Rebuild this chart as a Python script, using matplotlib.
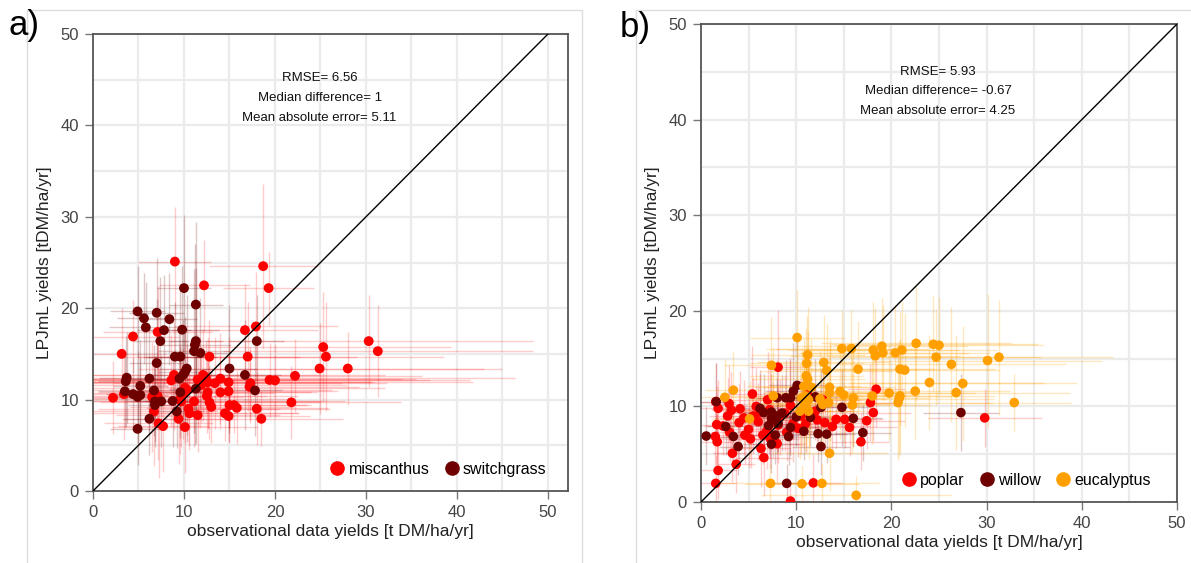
import matplotlib
matplotlib.use("Agg")
import matplotlib.pyplot as plt
from matplotlib.lines import Line2D
from matplotlib.patches import Rectangle

plt.rcParams['font.family'] = ['Liberation Sans', 'DejaVu Sans']

# ---------------- panel a data ----------------
mis_x = [9.0, 18.7, 12.2, 19.3, 7.1, 4.4, 16.7, 17.9, 3.15, 12.8, 17.0, 25.3, 25.6, 24.9, 22.2, 19.4,
         20.0, 21.8, 18.5, 18.0, 17.3, 17.2, 2.2, 3.4, 7.2, 7.7, 6.7, 6.5, 7.1, 8.9, 8.6, 9.4, 10.1,
         10.5, 10.6, 11.5, 11.1, 9.6, 9.7, 10.1, 10.3, 9.9, 11.8, 12.1, 12.4, 12.6, 12.6, 12.5, 13.0,
         12.8, 13.4, 14.0, 14.0, 14.9, 14.9, 15.0, 15.5, 15.8, 14.5, 14.9, 11.5, 11.9, 28.0, 30.3, 31.3]
mis_y = [25.1, 24.6, 22.5, 22.2, 17.4, 16.9, 17.6, 18.0, 15.0, 14.7, 14.7, 15.75, 14.7, 13.4, 12.6, 12.15,
         12.1, 9.7, 7.9, 9.0, 11.8, 11.4, 10.2, 10.6, 7.4, 7.1, 8.7, 10.3, 10.4, 12.7, 12.1, 7.9, 7.0,
         9.0, 8.5, 8.3, 9.8, 10.1, 9.8, 11.3, 11.1, 10.7, 11.9, 12.7, 12.4, 11.9, 10.8, 10.4, 9.2,
         9.7, 11.8, 12.3, 10.8, 11.9, 10.9, 9.4, 9.4, 9.1, 8.5, 8.2, 12.2, 11.6, 13.4, 16.4, 15.3]
mis_xerr = [4, 6, 5, 5, 6, 5, 8, 9, 5, 10, 12, 14, 13, 20, 14, 22,
            17, 12, 9, 8, 15, 12, 4, 6, 6, 5, 7, 10, 12, 16, 14, 6, 8,
            10, 12, 9, 14, 12, 18, 22, 16, 10, 30, 20, 34, 18, 12, 10, 9,
            12, 14, 20, 10, 16, 12, 9, 8, 10, 8, 9, 24, 16, 15, 18, 17]
mis_yerr = [6, 9, 5, 4, 5, 4, 5, 6, 5, 4, 6, 6, 6, 5, 4, 4,
            4, 4, 3, 4, 4, 4, 4, 5, 6, 5, 6, 6, 7, 6, 5, 5, 5,
            4, 4, 4, 5, 6, 5, 6, 5, 5, 5, 5, 4, 5, 4, 4, 4,
            4, 5, 5, 4, 5, 4, 4, 3, 4, 3, 3, 5, 4, 4, 5, 5]

swi_x = [10.0, 11.3, 4.9, 7.0, 5.6, 8.4, 5.8, 7.8, 9.8, 7.4, 11.3, 11.2, 11.1, 11.8, 9.0, 9.6, 7.0,
         10.3, 10.1, 9.9, 9.5, 15.0, 16.7, 17.8, 18.0, 3.7, 3.6, 6.2, 5.2, 3.5, 4.4, 4.9, 5.2, 6.7,
         7.5, 6.8, 6.8, 8.75, 9.6, 9.2, 6.2, 4.9, 11.3]
swi_y = [22.2, 20.4, 19.65, 19.5, 18.9, 18.8, 17.9, 17.6, 17.65, 16.4, 16.4, 16.0, 15.3, 15.1, 14.7, 14.7, 14.0,
         13.4, 13.0, 12.7, 12.3, 13.4, 12.7, 11.0, 16.4, 12.4, 12.0, 12.3, 11.5, 10.9, 10.6, 10.3, 10.5, 11.0,
         9.8, 9.8, 9.4, 9.85, 10.8, 8.7, 7.9, 6.8, 11.2]
swi_xerr = [3, 3, 3, 3, 3, 3, 4, 3, 4, 3, 3, 4, 4, 3, 3, 4, 3,
            3, 3, 4, 3, 3, 4, 3, 3, 3, 3, 3, 3, 3, 3, 3, 3, 3,
            3, 3, 3, 3, 3, 3, 3, 3, 3]
swi_yerr = [8, 9, 5, 6, 5, 5, 5, 6, 7, 7, 8, 11, 9, 6, 6, 8, 7,
            8, 6, 6, 5, 7, 6, 5, 5, 5, 5, 6, 5, 4, 4, 5, 4, 5,
            5, 5, 4, 5, 5, 4, 4, 4, 6]

# ---------------- panel b data ----------------
pop_x = [8.1, 5.4, 18.4, 17.8, 18.1, 17.4, 16.8, 15.6, 13.8, 14.2, 15.1, 12.8, 11.2, 1.55, 1.8, 2.95,
         3.2, 4.1, 1.65, 1.5, 1.7, 2.8, 4.0, 3.3, 3.7, 1.8, 1.55, 6.6, 6.3, 7.0, 7.2, 11.8, 9.4, 8.0,
         9.65, 9.4, 8.3, 8.1, 6.9, 2.3, 29.8, 5.5, 6.0, 5.0, 4.5, 6.5, 7.6, 8.8, 10.5, 11.0, 12.2,
         13.0, 5.8, 3.0, 10.2, 12.0, 9.0, 5.2, 7.3, 6.2, 4.6]
pop_y = [14.1, 11.3, 11.8, 10.4, 9.35, 8.5, 6.3, 7.8, 7.9, 8.65, 8.65, 10.7, 11.25, 10.5, 9.8, 10.3,
         9.6, 9.75, 8.1, 6.85, 6.3, 9.0, 8.3, 5.1, 3.95, 3.3, 1.95, 4.65, 5.6, 10.7, 9.65, 2.0, 0.1, 6.1,
         8.2, 10.1, 8.9, 8.05, 7.4, 7.95, 8.8, 9.0, 8.4, 7.6, 8.8, 7.0, 8.6, 9.3, 9.0, 8.2, 8.6,
         8.3, 10.0, 7.3, 7.7, 9.5, 7.3, 6.6, 6.6, 9.4, 7.0]
pop_xerr = [3, 3, 3, 3, 4, 4, 3, 5, 4, 4, 4, 4, 3, 2, 2, 2,
            2, 3, 2, 2, 2, 2, 3, 2, 2, 2, 2, 3, 3, 4, 4, 3, 2, 3,
            4, 4, 4, 3, 3, 2, 6, 3, 3, 3, 3, 3, 3, 4, 4, 4, 4,
            4, 3, 2, 4, 4, 3, 3, 3, 3, 3]
pop_yerr = [6, 5, 4, 4, 3, 3, 3, 3, 3, 3, 3, 4, 4, 4, 3, 4,
            4, 4, 4, 3, 3, 4, 4, 3, 3, 3, 3, 4, 4, 5, 5, 3, 2, 4,
            4, 5, 4, 4, 4, 3, 3, 4, 4, 4, 4, 3, 4, 4, 4, 3, 3,
            3, 4, 3, 3, 3, 3, 3, 3, 4, 3]

wil_x = [1.6, 0.55, 2.6, 3.4, 3.9, 6.2, 6.6, 7.4, 8.0, 8.5, 8.0, 8.9, 9.4, 10.1, 9.7, 12.0, 12.6,
         14.8, 16.0, 17.0, 13.2, 12.3, 12.6, 10.8, 9.2, 7.8, 7.4, 9.0, 7.1, 9.4, 11.5, 10.0, 7.4,
         8.1, 27.3]
wil_y = [10.5, 6.9, 7.9, 6.85, 5.8, 9.8, 9.35, 9.4, 9.0, 9.3, 10.9, 10.9, 10.9, 12.2, 11.6, 11.0, 9.9,
         9.9, 8.75, 7.25, 7.1, 7.15, 5.8, 7.4, 6.85, 7.0, 6.05, 1.95, 8.0, 7.8, 8.85, 8.9, 8.75,
         8.2, 9.35]
wil_xerr = [2, 1, 2, 2, 2, 3, 3, 3, 3, 3, 3, 3, 3, 3, 3, 3, 3,
            3, 3, 3, 3, 3, 3, 3, 3, 3, 3, 2, 3, 3, 3, 3, 3,
            3, 4]
wil_yerr = [4, 3, 3, 3, 3, 4, 4, 4, 4, 4, 4, 4, 4, 5, 5, 4, 4,
            4, 3, 3, 3, 3, 3, 3, 3, 3, 3, 2, 3, 3, 3, 3, 3,
            3, 4]

euc_x = [10.1, 7.4, 14.8, 15.8, 11.2, 11.1, 12.9, 13.2, 16.5, 11.05, 11.2, 18.1, 19.0, 18.3, 19.1, 20.4,
         21.1, 22.6, 20.9, 21.4, 24.0, 22.5, 20.9, 20.8, 20.7, 19.75, 18.0, 16.0, 15.9, 15.0, 14.6, 13.5,
         13.4, 12.8, 12.5, 10.6, 11.0, 10.8, 11.3, 11.0, 11.3, 10.4, 11.6, 10.8, 13.5, 7.6, 2.5, 3.4,
         5.1, 13.5, 7.3, 10.6, 12.7, 16.3, 24.4, 25.0, 24.7, 26.3, 30.1, 31.3, 27.5, 26.8, 32.9]
euc_y = [17.2, 14.3, 16.05, 16.05, 15.4, 14.5, 14.6, 13.75, 13.9, 13.2, 12.85, 15.9, 16.3, 15.3, 15.6, 15.6,
         15.9, 16.6, 13.9, 13.8, 12.5, 11.6, 11.1, 10.8, 10.4, 11.4, 11.1, 10.9, 10.15, 11.2, 11.55, 11.4,
         10.4, 10.2, 10.8, 10.9, 11.1, 10.4, 10.7, 10.0, 9.5, 9.5, 12.0, 12.1, 12.0, 11.1, 10.95, 11.7,
         8.7, 5.1, 1.95, 1.9, 1.95, 0.7, 16.5, 16.4, 15.15, 14.4, 14.8, 15.15, 12.4, 11.45, 10.4]
euc_xerr = [5, 5, 8, 8, 6, 6, 7, 7, 8, 6, 6, 9, 9, 9, 9, 10,
            10, 10, 10, 10, 12, 10, 10, 10, 10, 9, 9, 8, 8, 8, 8, 7,
            7, 7, 7, 6, 6, 6, 6, 6, 6, 6, 6, 6, 7, 5, 3, 3,
            4, 6, 6, 6, 6, 10, 11, 11, 11, 12, 12, 12, 12, 12, 6]
euc_yerr = [5, 5, 4, 4, 5, 5, 5, 5, 5, 5, 5, 5, 5, 5, 5, 5,
            5, 6, 6, 6, 5, 5, 6, 6, 6, 5, 5, 5, 5, 5, 5, 5,
            5, 5, 5, 5, 5, 5, 5, 5, 5, 5, 5, 5, 5, 5, 4, 4,
            4, 4, 2, 2, 2, 2, 5, 5, 5, 6, 7, 6, 6, 6, 3]

stats_a = ["RMSE= 6.56", "Median difference= 1", "Mean absolute error= 5.11"]
stats_b = ["RMSE= 5.93", "Median difference= -0.67", "Mean absolute error= 4.25"]
ticks = [0, 10, 20, 30, 40, 50]
grid_vals = [5, 10, 15, 20, 25, 30, 35, 40, 45, 50]

RED = "#FF0000"
DARK = "#6E0000"
ORANGE = "#FFA000"
SPINE = "#555555"

fig = plt.figure(figsize=(11.91, 5.63), dpi=100)

# light panel frames
fig.add_artist(Rectangle((27 / 1191, -0.01), (582 - 27) / 1191, 1 - 10 / 563 + 0.01,
                         transform=fig.transFigure, fill=False, edgecolor="#DDDDDD", lw=1))
fig.add_artist(Rectangle((636 / 1191, -0.01), 0.5, 1 - 10 / 563 + 0.01,
                         transform=fig.transFigure, fill=False, edgecolor="#DDDDDD", lw=1))

ax_a = fig.add_axes([93 / 1191, 1 - 491 / 563, (568 - 93) / 1191, (491 - 34) / 563])
ax_b = fig.add_axes([701 / 1191, 1 - 502 / 563, (1177 - 701) / 1191, (502 - 24) / 563])


def style(ax, xmax):
    ax.set_xlim(0, xmax)
    ax.set_ylim(0, 50)
    ax.set_xticks(ticks)
    ax.set_yticks(ticks)
    for v in grid_vals:
        ax.axvline(v, color="#EBEBEB", lw=1.6, zorder=0)
        ax.axhline(v, color="#EBEBEB", lw=1.6, zorder=0)
    for s in ax.spines.values():
        s.set_color(SPINE)
        s.set_linewidth(1.3)
    ax.tick_params(direction="out", length=6, width=1, color="#777777",
                   labelcolor="#444444", labelsize=12, pad=4)
    ax.plot([0, 50], [0, 50], color="black", lw=1, zorder=4)
    ax.set_xlabel("observational data yields [t DM/ha/yr]", fontsize=12.5, color="#222222", labelpad=3)
    ax.set_ylabel("LPJmL yields [tDM/ha/yr]", fontsize=12.5, color="#222222", labelpad=6)


def series(ax, x, y, xe, ye, color, ealpha, size):
    ax.errorbar(x, y, xerr=xe, yerr=ye, fmt="none", ecolor=color, alpha=ealpha, elinewidth=1, zorder=2)
    ax.scatter(x, y, s=size, color=color, edgecolors="none", zorder=3)


style(ax_a, 52.2)
style(ax_b, 50)

series(ax_a, mis_x, mis_y, mis_xerr, mis_yerr, RED, 0.2, 50)
series(ax_a, swi_x, swi_y, swi_xerr, swi_yerr, DARK, 0.22, 50)

series(ax_b, pop_x, pop_y, pop_xerr, pop_yerr, RED, 0.2, 48)
series(ax_b, wil_x, wil_y, wil_xerr, wil_yerr, DARK, 0.22, 48)
series(ax_b, euc_x, euc_y, euc_xerr, euc_yerr, ORANGE, 0.25, 48)

for i, t in enumerate(stats_a):
    ax_a.text(24.9, 45.2 - 2.2 * i, t, ha="center", va="center", fontsize=9.5, color="#111111", zorder=5)
for i, t in enumerate(stats_b):
    ax_b.text(24.9, 45.0 - 2.05 * i, t, ha="center", va="center", fontsize=9.5, color="#111111", zorder=5)

h_a = [Line2D([], [], ls="none", marker="o", markersize=9.5, color=c) for c in (RED, DARK)]
ax_a.legend(h_a, ["miscanthus", "switchgrass"], ncol=2, loc="lower right", bbox_to_anchor=(0.985, 0.0),
            frameon=False, fontsize=11.5, handletextpad=0.1, columnspacing=0.8, handlelength=1.2)
h_b = [Line2D([], [], ls="none", marker="o", markersize=9.5, color=c) for c in (RED, DARK, ORANGE)]
ax_b.legend(h_b, ["poplar", "willow", "eucalyptus"], ncol=3, loc="lower right", bbox_to_anchor=(0.975, 0.0),
            frameon=False, fontsize=11.5, handletextpad=0.1, columnspacing=0.8, handlelength=1.2)

fig.text(24 / 1191, 1 - 25 / 563, "a)", fontsize=25, ha="center", va="center")
fig.text(635 / 1191, 1 - 27 / 563, "b)", fontsize=25, ha="center", va="center")

fig.savefig("out.png", dpi=100)
